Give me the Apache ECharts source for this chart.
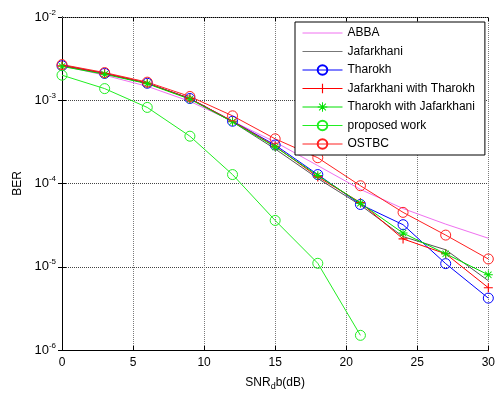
<!DOCTYPE html>
<html>
<head>
<meta charset="utf-8">
<script src="https://cdn.jsdelivr.net/npm/echarts@6/dist/echarts.min.js"></script>
<style>
  html, body { margin: 0; padding: 0; background: #fff; }
  #chart { width: 498px; height: 396px; }
</style>
</head>
<body>
<div id="chart"></div>
<script>
// SNR points (dB)
var snr = [0, 3, 6, 9, 12, 15, 18, 21, 24, 27, 30];

// BER curves
var abba       = [2.6e-3, 2.0e-3, 1.47e-3, 9.7e-4, 5.6e-4, 3.15e-4, 1.64e-4, 8.5e-5, 5.0e-5, 3.25e-5, 2.2e-5];
var jafarkhani = [2.65e-3, 2.1e-3, 1.6e-3, 1.05e-3, 5.5e-4, 2.6e-4, 1.15e-4, 5.5e-5, 2.3e-5, 1.6e-5, 6.8e-6];
var tharokh    = [2.6e-3, 2.1e-3, 1.6e-3, 1.05e-3, 5.6e-4, 2.9e-4, 1.28e-4, 5.6e-5, 3.2e-5, 1.09e-5, 4.2e-6];
var jafWithTh  = [2.6e-3, 2.1e-3, 1.6e-3, 1.05e-3, 5.6e-4, 2.8e-4, 1.2e-4, 5.9e-5, 2.16e-5, 1.43e-5, 5.6e-6];
var thWithJaf  = [2.55e-3, 2.05e-3, 1.58e-3, 1.03e-3, 5.5e-4, 2.75e-4, 1.25e-4, 5.8e-5, 2.54e-5, 1.43e-5, 8.0e-6];
var proposed   = [2.0e-3, 1.38e-3, 8.2e-4, 3.7e-4, 1.28e-4, 3.6e-5, 1.1e-5, 1.5e-6];
var ostbc      = [2.68e-3, 2.15e-3, 1.65e-3, 1.11e-3, 6.5e-4, 3.44e-4, 2.04e-4, 9.4e-5, 4.5e-5, 2.4e-5, 1.24e-5];

var legendNames = ['ABBA', 'Jafarkhani', 'Tharokh', 'Jafarkhani with Tharokh',
                   'Tharokh with Jafarkhani', 'proposed work', 'OSTBC'];
var colors = ['#f070f0', '#777777', '#0000ff', '#ff0000', '#00e000', '#22ee22', '#ff2020'];

// minor grid values 2..9 x 10^n
var minorVals = [];
for (var d = -6; d < -2; d++) {
    for (var k = 2; k <= 9; k++) {
        minorVals.push(k * Math.pow(10, d));
    }
}

var FONT = 'Liberation Sans, Arial, sans-serif';
var plusPath = 'path://M-0.12,-1H0.12V-0.12H1V0.12H0.12V1H-0.12V0.12H-1V-0.12H-0.12Z';
var starPath = 'path://M-0.1,-1H0.1V-0.1H1V0.1H0.1V1H-0.1V0.1H-1V-0.1H-0.1Z' +
    'M-0.78,-0.64L-0.64,-0.78L0,-0.14L0.64,-0.78L0.78,-0.64L0.14,0L0.78,0.64L0.64,0.78L0,0.14L-0.64,0.78L-0.78,0.64L-0.14,0Z';

function pairs(ys) {
    var out = [];
    for (var i = 0; i < ys.length; i++) out.push([snr[i], ys[i]]);
    return out;
}

function mkSeries(name, ys, color, symbol, size) {
    var s = {
        name: name,
        type: 'line',
        data: pairs(ys),
        lineStyle: { color: color, width: 1 },
        symbol: symbol,
        symbolSize: size,
        showSymbol: symbol !== 'none',
        itemStyle: { color: color },
        emphasis: { disabled: true },
        z: 3
    };
    if (symbol === 'circle') {
        s.itemStyle = { color: 'rgba(0,0,0,0)', borderColor: color, borderWidth: 1 };
    }
    return s;
}

var myChart = echarts.init(document.getElementById('chart'), null, { renderer: 'canvas' });

var seriesList = [
    mkSeries('ABBA', abba, colors[0], 'none', 0),
    mkSeries('Jafarkhani', jafarkhani, '#555555', 'none', 0),
    mkSeries('Tharokh', tharokh, colors[2], 'circle', 10),
    mkSeries('Jafarkhani with Tharokh', jafWithTh, colors[3], plusPath, 9),
    mkSeries('Tharokh with Jafarkhani', thWithJaf, colors[4], starPath, 9),
    mkSeries('proposed work', proposed, colors[5], 'circle', 10),
    mkSeries('OSTBC', ostbc, colors[6], 'circle', 10)
];

// minor horizontal grid lines
seriesList.push({
    type: 'line',
    data: [],
    silent: true,
    markLine: {
        silent: true,
        symbol: 'none',
        label: { show: false },
        lineStyle: { color: '#7a7a7a', type: [1, 1], width: 1 },
        data: minorVals.map(function(v) { return { yAxis: v }; })
    },
    z: 1
});

var axisLineStyle = { lineStyle: { color: '#000', width: 1 } };

// legend entries: thin lines, the two plain lines get no marker
var legendData = legendNames.map(function(n, i) {
    var item = { name: n, lineStyle: { width: 1, color: colors[i] } };
    if (i < 2) item.itemStyle = { opacity: 0 };
    return item;
});

myChart.setOption({
    animation: false,
    backgroundColor: '#fff',
    textStyle: { fontFamily: FONT },
    grid: { left: 62, right: 7, top: 17, bottom: 43, containLabel: false },
    legend: {
        orient: 'vertical',
        left: 295,
        top: 22,
        padding: [5, 10, 5, 7],
        itemWidth: 40,
        itemHeight: 12,
        itemGap: 6.5,
        backgroundColor: '#fff',
        borderColor: '#000',
        borderWidth: 1,
        textStyle: { fontSize: 12, color: '#000', fontFamily: FONT },
        data: legendData
    },
    xAxis: [{
        type: 'value',
        min: 0,
        max: 30,
        interval: 5,
        position: 'bottom',
        axisLine: axisLineStyle,
        axisTick: { inside: true, length: 4, lineStyle: { color: '#000' } },
        axisLabel: { color: '#000', fontSize: 12, margin: 7 },
        splitLine: { show: true, lineStyle: { color: '#7a7a7a', type: [1, 1] } },
        name: 'SNR{sub|d}b(dB)',
        nameLocation: 'middle',
        nameGap: 24,
        nameTextStyle: {
            color: '#000', fontSize: 12,
            rich: { sub: { fontSize: 9, color: '#000', padding: [8, 0, 0, 0] } }
        }
    }, {
        type: 'value',
        min: 0,
        max: 30,
        interval: 5,
        position: 'top',
        axisLine: axisLineStyle,
        axisTick: { inside: true, length: 4, lineStyle: { color: '#000' } },
        axisLabel: { show: false },
        splitLine: { show: false }
    }],
    yAxis: [{
        type: 'log',
        logBase: 10,
        min: 1e-6,
        max: 1e-2,
        position: 'left',
        axisLine: axisLineStyle,
        axisTick: { inside: true, length: 4, lineStyle: { color: '#000' } },
        axisLabel: {
            color: '#000',
            fontSize: 13,
            margin: 6,
            formatter: function(v) {
                var e = Math.round(Math.log10(v));
                return '10{sup|' + e + '}';
            },
            rich: { sup: { fontSize: 8, color: '#000', padding: [0, 0, 9, 0] } }
        },
        splitLine: { show: true, lineStyle: { color: '#444', type: [1, 1] } },
        name: 'BER',
        nameLocation: 'middle',
        nameGap: 35,
        nameTextStyle: { color: '#000', fontSize: 12 }
    }, {
        type: 'log',
        logBase: 10,
        min: 1e-6,
        max: 1e-2,
        position: 'right',
        axisLine: axisLineStyle,
        axisTick: { inside: true, length: 4, lineStyle: { color: '#000' } },
        axisLabel: { show: false },
        splitLine: { show: false }
    }],
    series: seriesList
});
</script>
</body>
</html>
